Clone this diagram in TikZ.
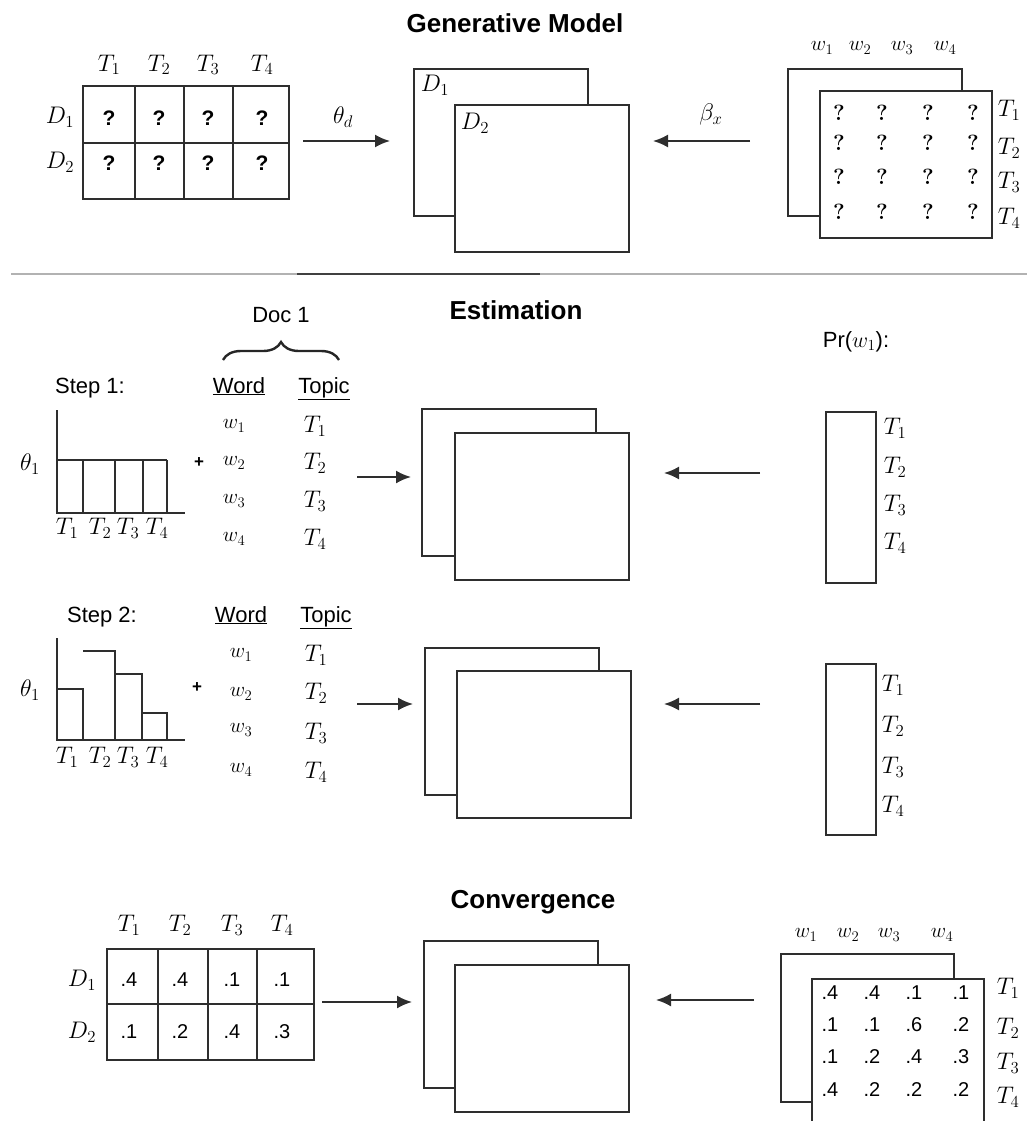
\RequirePackage{fix-cm}
\documentclass[tikz,border=0pt]{standalone}
\usepackage{fontspec}
\newfontfamily\helv{Liberation Sans}
\usetikzlibrary{arrows.meta}
\usetikzlibrary{decorations.pathreplacing}

\begin{document}
\begin{tikzpicture}[x=1pt,y=-1pt,
  ln/.style={line width=1.9pt,draw=black!82},
  sheet/.style={ln,fill=white,rectangle,inner sep=0pt,anchor=north west,
    minimum width=174pt,minimum height=147pt},
  col/.style={ln,rectangle,inner sep=0pt,anchor=north west,
    minimum width=50pt,minimum height=171pt},
  flow/.style={ln,-{Latex[length=15pt,width=13pt]}},
  head/.style={font=\helv\bfseries\fontsize{26}{30}\selectfont},
  sf/.style={font=\helv\fontsize{22}{26}\selectfont,anchor=base,inner sep=0pt},
  lab/.style={font=\fontsize{24}{28}\selectfont,inner sep=0pt},
  wl/.style={font=\fontsize{21}{25}\selectfont,inner sep=0pt},
  qs/.style={font=\helv\bfseries\fontsize{21}{25}\selectfont,inner sep=0pt},
  qm/.style={font=\bfseries\fontsize{22}{26}\selectfont,inner sep=0pt},
  val/.style={font=\helv\fontsize{20}{24}\selectfont,inner sep=0pt}]
  \useasboundingbox (0,0) rectangle (1027,1121);

  % generative model
  \node[head] (gen) at (515,23) {Generative Model};
  \draw[ln] (83,86) rectangle (289,199);
  \draw[ln] (83,143) -- (289,143);
  \foreach \x in {135,184,233} \draw[ln] (\x,86) -- (\x,199);
  \foreach \x/\i in {109/1,159/2,208/3,262/4} {
    \node[lab] (gt\i) at (\x,65) {$T_\i$};
    \node[qs] (gqa\i) at (\x,118) {?};
    \node[qs] (gqb\i) at (\x,163) {?};
  }
  \node[lab] (gd1) at (60,117) {$D_1$};
  \node[lab] (gd2) at (60,162) {$D_2$};
  \coordinate (ga) at (303,141);
  \coordinate (gb) at (390,141);
  \draw[flow] (ga) -- (gb);
  \node[lab] (thd) at (343,117) {$\theta_d$};
  \node[sheet] (gback) at (413,68) {};
  \node[sheet] (gfront) at (454,104) {};
  \node[lab] (sd1) at (435,85) {$D_1$};
  \node[lab] (sd2) at (475,123) {$D_2$};
  \coordinate (gc) at (750,141);
  \coordinate (gd) at (653,141);
  \draw[flow] (gc) -- (gd);
  \node[lab] (btx) at (711,115) {$\beta_x$};
  \node[sheet] (wback) at (787,68) {};
  \node[sheet,minimum width=172pt] (wfront) at (819,90) {};
  \foreach \x/\i in {822/1,860/2,902/3,945/4}
    \node[wl] (gw\i) at (\x,48) {$w_\i$};
  \foreach \y/\j in {113/1,143/2,177/3,212/4} {
    \foreach \x/\i in {839/1,882/2,928/3,973/4}
      \node[qm] (wq\j\i) at (\x,\y) {?};
  }
  \foreach \y/\i in {110/1,148/2,182/3,218/4}
    \node[lab] (wt\i) at (1009,\y) {$T_\i$};

  \draw[gray!60,line width=2pt] (11,274) -- (1027,274);
  \draw[black!75,line width=2pt] (297,274) -- (540,274);

  % estimation
  \node[head] (est) at (516,310) {Estimation};
  \node[sf] (doc) at (281,322) {Doc 1};
  \draw[line width=2.4pt,black!85,decorate,decoration={brace,amplitude=18pt}]
    (223,360) -- (339,360);
  \node[sf] (st1) at (90,393) {Step 1:};
  \node[sf] (wd1) at (239,393) {\underline{Word}};
  \node[sf] (tp1) at (324,393) {\underline{Topic}};
  \draw[ln] (57,410) -- (57,513) -- (185,513);
  \draw[ln] (57,460) -- (167,460);
  \foreach \x in {83,115,143,167} \draw[ln] (\x,460) -- (\x,513);
  \node[lab] (th1) at (30,464) {$\theta_1$};
  \node[font=\helv\bfseries\fontsize{17}{19}\selectfont] (pl1) at (199,463) {+};
  \foreach \x/\i in {67/1,100/2,128/3,157/4}
    \node[lab] (ha\i) at (\x,528) {$T_\i$};
  \foreach \y/\i in {426/1,463/2,501/3,539/4} {
    \node[wl] (ew\i) at (234,\y) {$w_\i$};
    \node[lab] (et\i) at (315,\y) {$T_\i$};
  }
  \coordinate (ea) at (357,477);
  \coordinate (eb) at (411,477);
  \draw[flow] (ea) -- (eb);
  \node[sheet] (eback) at (421,408) {};
  \node[sheet] (efront) at (454,432) {};
  \coordinate (ec) at (760,473);
  \coordinate (ed) at (664,473);
  \draw[flow] (ec) -- (ed);
  \node[font=\helv\fontsize{22}{26}\selectfont] (pr) at (856,342) {Pr($w_1$):};
  \node[col] (pa) at (825,411) {};
  \foreach \y/\i in {428/1,467/2,505/3,543/4}
    \node[lab] (pt\i) at (895,\y) {$T_\i$};

  \node[sf] (st2) at (102,622) {Step 2:};
  \node[sf] (wd2) at (241,622) {\underline{Word}};
  \node[sf] (tp2) at (326,622) {\underline{Topic}};
  \draw[ln] (57,638) -- (57,740) -- (185,740);
  \draw[ln] (57,689) -- (83,689) -- (83,740);
  \draw[ln] (83,651) -- (115,651) -- (115,740);
  \draw[ln] (115,674) -- (142,674) -- (142,740);
  \draw[ln] (142,713) -- (167,713) -- (167,740);
  \node[lab] (th2) at (30,690) {$\theta_1$};
  \node[font=\helv\bfseries\fontsize{17}{19}\selectfont] (pl2) at (197,688) {+};
  \foreach \x/\i in {67/1,100/2,128/3,157/4}
    \node[lab] (hb\i) at (\x,757) {$T_\i$};
  \foreach \y/\yy/\i in {655/655/1,694/693/2,730/733/3,770/772/4} {
    \node[wl] (fw\i) at (241,\y) {$w_\i$};
    \node[lab] (ft\i) at (316,\yy) {$T_\i$};
  }
  \coordinate (fa) at (357,704);
  \coordinate (fb) at (413,704);
  \draw[flow] (fa) -- (fb);
  \node[sheet] (fback) at (424,647) {};
  \node[sheet] (ffront) at (456,670) {};
  \coordinate (fc) at (760,704);
  \coordinate (fd) at (664,704);
  \draw[flow] (fc) -- (fd);
  \node[col] (pb) at (825,663) {};
  \foreach \y/\i in {685/1,726/2,767/3,806/4}
    \node[lab] (qt\i) at (893,\y) {$T_\i$};

  % convergence
  \node[head] (conv) at (533,902) {Convergence};
  \draw[ln] (107,949) rectangle (314,1060);
  \draw[ln] (107,1004) -- (314,1004);
  \foreach \x in {158,208,257} \draw[ln] (\x,949) -- (\x,1060);
  \foreach \x/\i/\a/\b in {129/1/.4/.1,180/2/.4/.2,232/3/.1/.4,282/4/.1/.3} {
    \node[lab] (ct\i) at (\x,925) {$T_\i$};
    \node[val] (cva\i) at (\x,980) {\a};
    \node[val] (cvb\i) at (\x,1032) {\b};
  }
  \node[lab] (cd1) at (82,980) {$D_1$};
  \node[lab] (cd2) at (82,1032) {$D_2$};
  \coordinate (ca) at (322,1002);
  \coordinate (cb) at (412,1002);
  \draw[flow] (ca) -- (cb);
  \node[sheet] (cback) at (423,940) {};
  \node[sheet] (cfront) at (454,964) {};
  \coordinate (cc) at (754,1000);
  \coordinate (cd) at (656,1000);
  \draw[flow] (cc) -- (cd);
  \node[sheet,minimum width=173pt,minimum height=148pt] (vback) at (780,953) {};
  \node[sheet,minimum width=172pt] (vfront) at (811,978) {};
  \foreach \x/\i in {806/1,848/2,889/3,942/4}
    \node[wl] (cw\i) at (\x,935) {$w_\i$};
  \foreach \y/\j/\a/\b/\c/\d in {993/1/.4/.4/.1/.1,1025/2/.1/.1/.6/.2,
      1057/3/.1/.2/.4/.3,1090/4/.4/.2/.2/.2} {
    \node[val] (vv\j1) at (830,\y) {\a};
    \node[val] (vv\j2) at (872,\y) {\b};
    \node[val] (vv\j3) at (914,\y) {\c};
    \node[val] (vv\j4) at (961,\y) {\d};
  }
  \foreach \y/\i in {988/1,1028/2,1063/3,1097/4}
    \node[lab] (vt\i) at (1008,\y) {$T_\i$};
\end{tikzpicture}
\end{document}
